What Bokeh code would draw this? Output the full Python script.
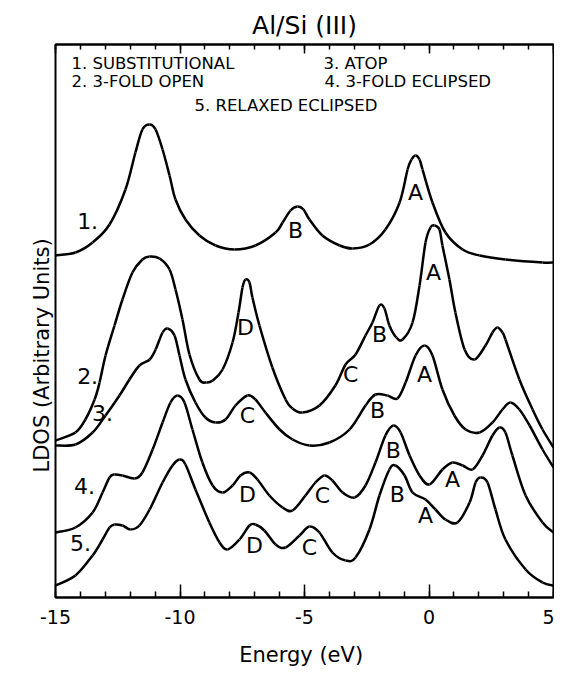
from bokeh.plotting import figure
from bokeh.models import Range1d, LinearAxis, SingleIntervalTicker, FixedTicker, Title
from bokeh.core.properties import value
from bokeh.embed import file_html
from bokeh.resources import INLINE

FONT = "DejaVu Sans"

# Energy (eV) and LDOS (arbitrary units, curves offset vertically as in the figure)
e1 = [-15.00, -14.20, -13.51, -12.83, -12.19, -11.79, -11.51, -11.22, -10.98, -10.70, -10.42, -10.18,
      -9.78, -9.22, -8.57, -7.81, -6.97, -6.16, -5.88, -5.56, -5.28, -5.04, -4.80, -4.28, -3.59, -3.07,
      -2.39, -1.75, -1.18, -0.86, -0.70, -0.54, -0.38, -0.26, 0.14, 0.66, 1.35, 2.03, 3.07, 4.56, 5.00]
y1 = [6.84, 6.90, 7.10, 7.46, 8.16, 8.90, 9.36, 9.46, 9.36, 8.96, 8.44, 7.96,
      7.56, 7.24, 7.04, 6.96, 7.04, 7.30, 7.50, 7.74, 7.82, 7.76, 7.56, 7.24, 7.04, 6.98,
      7.06, 7.36, 7.90, 8.56, 8.76, 8.84, 8.76, 8.56, 7.90, 7.30, 6.96, 6.84, 6.76, 6.70, 6.70]

e2 = [-15.00, -14.20, -13.80, -13.43, -13.23, -12.99, -12.63, -12.31, -11.91, -11.51, -11.22, -10.82,
      -10.42, -10.18, -9.90, -9.62, -9.22, -8.94, -8.69, -8.29, -7.89, -7.65, -7.49, -7.37, -7.21,
      -7.09, -6.81, -6.29, -5.76, -5.48, -5.08, -4.40, -3.76, -3.35, -2.95, -2.55, -2.27, -1.99,
      -1.79, -1.59, -1.31, -1.06, -0.66, -0.38, -0.14, 0.06, 0.22, 0.42, 0.54, 0.82, 1.06, 1.43,
      1.83, 2.27, 2.55, 2.75, 2.95, 3.07, 3.63, 4.16, 4.56, 5.00]
y2 = [3.14, 3.30, 3.56, 3.96, 4.30, 4.84, 5.44, 5.96, 6.50, 6.76, 6.82, 6.78,
      6.56, 6.16, 5.56, 4.86, 4.36, 4.30, 4.34, 4.56, 5.10, 5.70, 6.20, 6.36, 6.30,
      6.00, 5.44, 4.60, 3.96, 3.78, 3.70, 3.84, 4.24, 4.66, 4.86, 5.24, 5.50, 5.84,
      5.78, 5.44, 5.20, 5.16, 5.50, 6.24, 7.10, 7.40, 7.44, 7.36, 7.04, 6.36, 5.70, 4.96,
      4.76, 5.04, 5.30, 5.40, 5.30, 5.16, 4.36, 3.76, 3.36, 3.00]

e3 = [-15.00, -14.20, -13.51, -12.99, -12.43, -12.03, -11.63, -11.22, -10.98, -10.70, -10.50, -10.22,
      -10.02, -9.78, -9.38, -8.98, -8.57, -8.17, -7.77, -7.29, -6.97, -6.57, -6.00, -5.48, -4.80,
      -4.00, -3.19, -2.55, -2.15, -1.67, -1.27, -0.94, -0.54, -0.18, 0.14, 0.54, 1.02, 1.47, 2.03,
      2.55, 2.95, 3.27, 3.63, 4.04, 4.56, 5.00]
y3 = [3.04, 3.06, 3.30, 3.64, 4.04, 4.36, 4.64, 4.76, 4.96, 5.30, 5.38, 5.24,
      4.84, 4.36, 3.90, 3.60, 3.50, 3.56, 3.84, 4.04, 3.96, 3.70, 3.36, 3.16, 3.04,
      3.10, 3.36, 3.84, 4.06, 4.04, 3.98, 4.30, 4.84, 5.04, 4.84, 4.16, 3.64, 3.36, 3.30,
      3.50, 3.76, 3.90, 3.76, 3.44, 2.96, 2.60]

e4 = [-15.00, -14.20, -13.51, -13.11, -12.83, -12.63, -12.31, -11.83, -11.51, -11.10, -10.70, -10.38,
      -10.10, -9.82, -9.50, -9.10, -8.69, -8.29, -7.89, -7.57, -7.21, -6.89, -6.41, -5.88, -5.48,
      -4.96, -4.56, -4.20, -3.88, -3.47, -2.99, -2.55, -2.15, -1.75, -1.43, -1.14, -0.78, -0.38,
      0.02, 0.54, 0.94, 1.35, 1.75, 2.15, 2.55, 2.83, 3.07, 3.35, 3.88, 4.56, 5.00]
y4 = [1.30, 1.40, 1.70, 2.10, 2.40, 2.46, 2.44, 2.38, 2.50, 2.96, 3.50, 3.90,
      4.04, 3.90, 3.36, 2.70, 2.24, 2.10, 2.24, 2.44, 2.50, 2.36, 2.04, 1.80, 1.74,
      2.04, 2.30, 2.44, 2.34, 2.10, 2.00, 2.24, 2.70, 3.24, 3.44, 3.30, 2.84, 2.44,
      2.26, 2.56, 2.70, 2.64, 2.56, 2.84, 3.24, 3.40, 3.30, 2.84, 2.04, 1.50, 1.30]

e5 = [-15.00, -14.20, -13.51, -13.11, -12.83, -12.63, -12.31, -11.99, -11.63, -11.22, -10.70, -10.30,
      -10.02, -9.78, -9.38, -8.82, -8.41, -8.09, -7.61, -7.21, -6.97, -6.61, -6.16, -5.76, -5.20,
      -4.80, -4.40, -3.88, -3.35, -2.95, -2.39, -1.99, -1.59, -1.35, -0.98, -0.66, -0.14, 0.26,
      0.66, 1.14, 1.63, 1.87, 2.07, 2.35, 2.67, 3.07, 3.88, 4.56, 5.00]
y5 = [0.24, 0.44, 0.84, 1.16, 1.40, 1.46, 1.44, 1.36, 1.44, 1.76, 2.30, 2.64,
      2.76, 2.66, 2.16, 1.50, 1.10, 0.96, 1.16, 1.44, 1.46, 1.34, 1.06, 1.00, 1.24,
      1.42, 1.30, 0.90, 0.74, 0.80, 1.36, 2.04, 2.56, 2.64, 2.44, 2.10, 1.96, 1.76,
      1.56, 1.50, 1.90, 2.30, 2.40, 2.30, 1.76, 1.16, 0.56, 0.30, 0.24]

# curve number labels
num_text = ["1.", "2.", "3.", "4.", "5."]
num_e = [-13.71, -13.71, -13.11, -13.84, -14.00]
num_y = [7.54, 4.44, 3.70, 2.24, 1.10]

# peak letters
pk_text = ["B", "A", "D", "C", "B", "A", "C", "B", "A", "D", "C", "B", "A", "D", "C", "B", "A"]
pk_e = [-5.36, -0.54, -7.37, -3.15, -1.99, 0.18, -7.29, -2.07, -0.18, -7.29, -4.28, -1.43, 0.94,
        -7.01, -4.80, -1.27, -0.14]
pk_y = [7.34, 8.10, 5.40, 4.46, 5.26, 6.50, 3.64, 3.74, 4.46, 2.06, 2.04, 2.94, 2.36,
        1.04, 1.00, 2.06, 1.64]

# key text inside the frame
key_text = ["1. SUBSTITUTIONAL", "2. 3-FOLD OPEN", "3. ATOP", "4. 3-FOLD ECLIPSED", "5. RELAXED  ECLIPSED"]
key_e = [-14.36, -14.36, -4.24, -4.20, -9.42]
key_y = [10.68, 10.32, 10.68, 10.32, 9.84]

x_ticks = [-15, -10, -5, 0, 5]
x_tick_labels = ["-15", "-10", "-5", "0", "5"]

TITLE = "Al/Si (III)"
Y_LABEL = "LDOS (Arbitrary Units)"
X_LABEL = "Energy  (eV)"


def smooth_segments(xs, ys):
    """Cubic (Catmull-Rom) bezier segments passing through every read point."""
    n = len(xs)
    out = {k: [] for k in ("x0", "y0", "x1", "y1", "cx0", "cy0", "cx1", "cy1")}
    for i in range(n - 1):
        xm, ym = (xs[i - 1], ys[i - 1]) if i > 0 else (xs[i], ys[i])
        xp, yp = (xs[i + 2], ys[i + 2]) if i + 2 < n else (xs[i + 1], ys[i + 1])
        out["x0"].append(xs[i]); out["y0"].append(ys[i])
        out["x1"].append(xs[i + 1]); out["y1"].append(ys[i + 1])
        out["cx0"].append(xs[i] + (xs[i + 1] - xm) / 6.0)
        out["cy0"].append(ys[i] + (ys[i + 1] - ym) / 6.0)
        out["cx1"].append(xs[i + 1] - (xp - xs[i]) / 6.0)
        out["cy1"].append(ys[i + 1] - (yp - ys[i]) / 6.0)
    return out


p = figure(width=554, height=673, output_backend="svg", toolbar_location=None,
           x_range=Range1d(-15, 5), y_range=Range1d(0, 11.06),
           min_border_left=55, min_border_right=1, min_border_top=44, min_border_bottom=76)
p.background_fill_color = "white"
p.border_fill_color = "white"
p.outline_line_color = "black"
p.outline_line_width = 2
p.xgrid.visible = False
p.ygrid.visible = False

# left axis: no ticks, no labels; its (invisible) outer tick length only sets spacing
yax = p.yaxis[0]
yax.ticker = FixedTicker(ticks=[])
yax.axis_line_color = None
yax.major_tick_line_color = None
yax.minor_tick_line_color = None
yax.major_tick_in = 0
yax.major_tick_out = 24
yax.minor_tick_in = 0
yax.minor_tick_out = 0
yax.major_label_standoff = 0

ax = p.xaxis[0]
ax.ticker = SingleIntervalTicker(interval=5, num_minor_ticks=5)
ax.major_label_overrides = {t: l for t, l in zip(x_ticks, x_tick_labels)}
ax.axis_line_color = "black"
ax.axis_line_width = 2
ax.major_tick_in = 13
ax.major_tick_out = 0
ax.minor_tick_in = 6
ax.minor_tick_out = 0
ax.major_tick_line_width = 1.5
ax.minor_tick_line_width = 1.5
ax.major_label_text_font = FONT
ax.major_label_text_font_size = "19px"
ax.major_label_text_color = "black"
ax.major_label_standoff = 12
ax.axis_label = X_LABEL
ax.axis_label_text_font = FONT
ax.axis_label_text_font_size = "21px"
ax.axis_label_text_font_style = "normal"
ax.axis_label_text_color = "black"
ax.axis_label_standoff = 16

top = LinearAxis(ticker=SingleIntervalTicker(interval=5, num_minor_ticks=5))
top.axis_line_color = "black"
top.axis_line_width = 2
top.major_tick_in = 9
top.major_tick_out = 0
top.minor_tick_in = 5
top.minor_tick_out = 0
top.major_tick_line_width = 1.5
top.minor_tick_line_width = 1.5
top.major_label_text_font_size = "1px"
top.major_label_text_alpha = 0
top.major_label_standoff = 0
p.add_layout(top, "above")

p.title.text = TITLE
p.title.align = "center"
p.title.text_font = FONT
p.title.text_font_size = "25px"
p.title.text_font_style = "normal"
p.title.text_color = "black"

ylab = Title(text=Y_LABEL, align="left", offset=125,
             text_font=FONT, text_font_size="21px", text_font_style="normal",
             text_color="black", standoff=4)
p.add_layout(ylab, "left")

for e, y in [(e1, y1), (e2, y2), (e3, y3), (e4, y4), (e5, y5)]:
    seg = smooth_segments(e, y)
    p.bezier(line_color="black", line_width=2.5, **seg)

p.text(x=num_e, y=num_y, text=num_text, text_font=value(FONT), text_font_size="22px",
       text_align="center", text_baseline="middle", text_color="black")
p.text(x=pk_e, y=pk_y, text=pk_text, text_font=value(FONT), text_font_size="22px",
       text_align="center", text_baseline="middle", text_color="black")
p.text(x=key_e, y=key_y, text=key_text, text_font=value(FONT), text_font_size="16.5px",
       text_align="left", text_baseline="middle", text_color="black")

open("out.html", "w").write(file_html(p, INLINE))
